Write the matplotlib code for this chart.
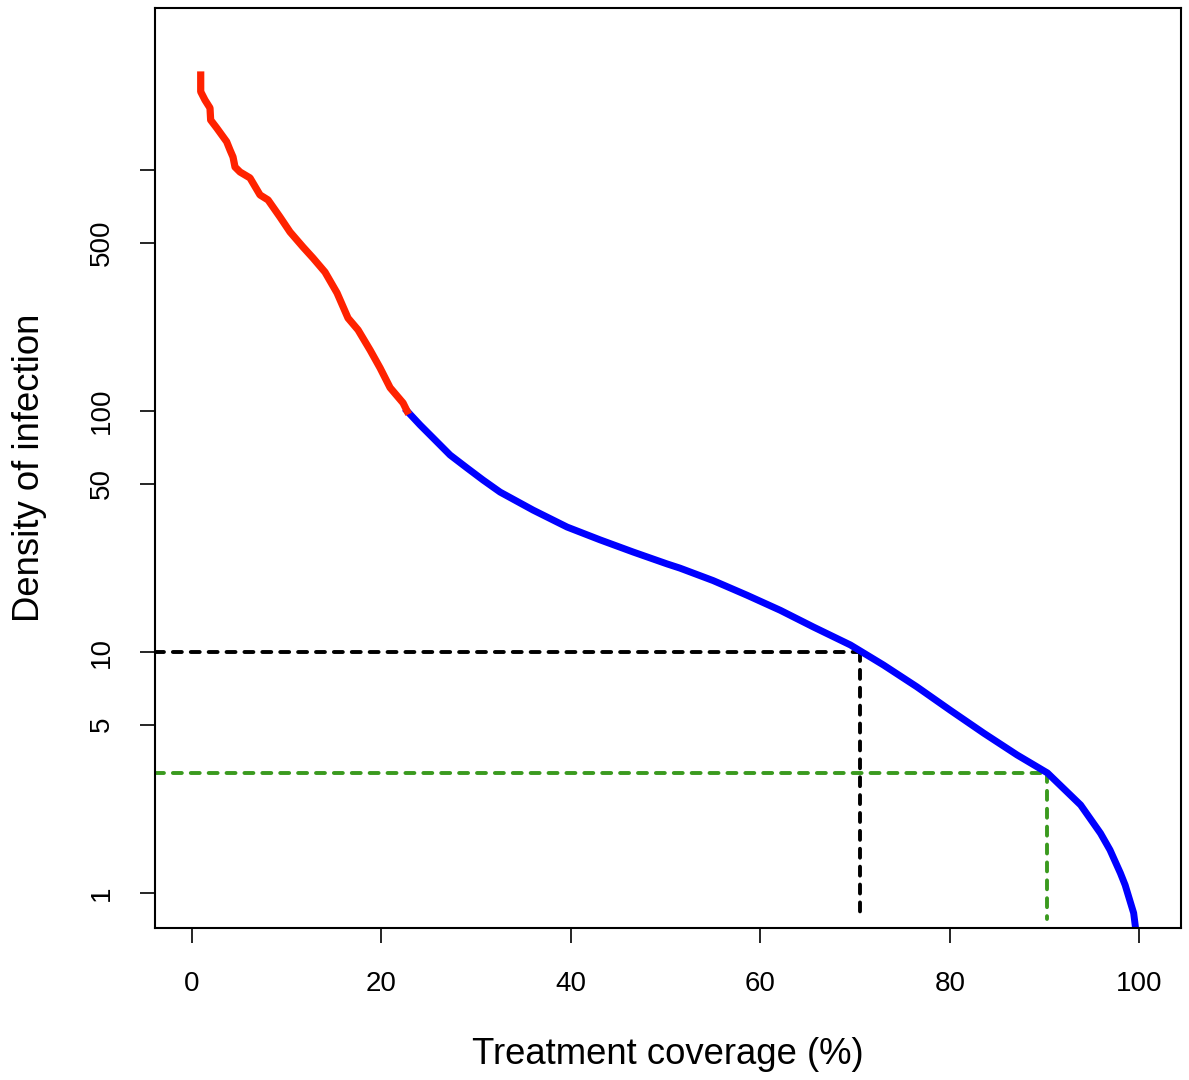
import matplotlib
matplotlib.use("Agg")
import matplotlib.pyplot as plt
import numpy as np

plt.rcParams['font.family'] = ['Liberation Sans', 'DejaVu Sans']

# red part of the curve (coverage %, density)
red_x = [0.92, 0.92, 1.37, 1.90, 1.97, 2.61, 3.66, 4.01, 4.33, 4.54, 5.07, 6.12,
         7.18, 8.03, 9.29, 10.35, 11.72, 12.78, 14.04, 15.31, 16.47, 17.53,
         18.80, 19.85, 20.91, 22.28, 22.70]
red_y = [2478, 2113, 1951, 1808, 1612, 1494, 1310, 1211, 1132, 1029, 981, 927,
         788, 751, 638, 553, 479, 431, 377, 309, 243, 217,
         179, 151, 125, 108, 100]

# blue part of the curve
blue_x = [22.70, 24.08, 25.45, 27.24, 29.04, 30.73, 32.52, 36.01, 39.60, 43.08,
          46.57, 50.16, 51.5, 55.0, 58.6, 62.1, 65.6, 69.5, 73.0, 76.5, 80.0,
          83.6, 87.1, 90.3, 93.8, 95.9, 96.9, 98.0, 98.5, 99.4, 99.6]
blue_y = [100, 87.5, 77.3, 65.7, 58.0, 51.7, 46.1, 38.8, 33.0, 29.2,
          26.0, 23.2, 22.3, 19.8, 17.2, 14.9, 12.7, 10.7, 8.83, 7.18, 5.75,
          4.60, 3.74, 3.15, 2.32, 1.77, 1.51, 1.21, 1.08, 0.826, 0.716]

# threshold guides
black_x, black_y = 70.5, 10
green_x, green_y = 90.3, 3.15

yticks = [1, 5, 10, 50, 100, 500, 1000]
ylabels = ['1', '5', '10', '50', '100', '500', '']
xticks = [0, 20, 40, 60, 80, 100]

fig = plt.figure(figsize=(11.89, 10.80), dpi=100)
ax = fig.add_axes([0.1304, 0.1407, 0.8629, 0.8519])
ax.set_yscale('log')
ax.set_xlim(-3.9, 104.4)
ax.set_ylim(0.716, 4700)

dash = dict(lw=2.8, dashes=(2.3, 2.3), dash_capstyle='round')
ax.plot([-3.9, black_x], [black_y, black_y], color='black', **dash)
ax.plot([black_x, black_x], [black_y, 0.78], color='black', **dash)
ax.plot([-3.9, green_x], [green_y, green_y], color='#3a9a1e', **dash)
ax.plot([green_x, green_x], [green_y, 0.78], color='#3a9a1e', **dash)

ax.plot(blue_x, blue_y, color='#0000ff', lw=5, solid_joinstyle='round')
ax.plot(red_x, red_y, color='#ff2200', lw=5.2, solid_joinstyle='round')

ax.set_yticks(yticks)
ax.set_yticklabels(ylabels, rotation=90, va='center')
ax.minorticks_off()
ax.set_xticks(xticks)
ax.tick_params(axis='both', labelsize=20, length=11, width=1.2, direction='out')
ax.tick_params(axis='y', pad=18)
ax.tick_params(axis='x', pad=20)
for s in ax.spines.values():
    s.set_linewidth(1.5)

ax.set_xlabel('Treatment coverage (%)', fontsize=26.3, labelpad=29)
ax.set_ylabel('Density of infection', fontsize=26.3, labelpad=30)

fig.savefig('out.png', dpi=100)
